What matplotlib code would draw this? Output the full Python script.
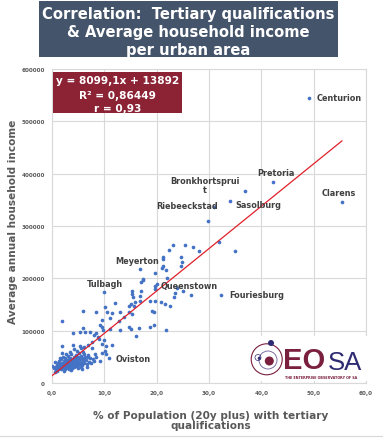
import matplotlib
matplotlib.use("Agg")
import matplotlib.pyplot as plt
from matplotlib.patches import Rectangle, Circle
from matplotlib.lines import Line2D
import numpy as np

# ---------------- data ----------------
# dense cluster of small towns
cluster_x = [0.3,0.5,0.8,0.9,1.0,1.1,1.2,1.3,1.4,1.5,1.6,1.7,1.8,1.9,2.0,2.0,2.1,2.2,2.3,2.3,
             2.4,2.5,2.5,2.6,2.7,2.7,2.8,2.9,3.0,3.0,3.1,3.2,3.2,3.3,3.4,3.5,3.5,3.6,3.7,3.7,
             3.8,3.9,4.0,4.0,4.1,4.2,4.2,4.3,4.4,4.5,4.5,4.6,4.7,4.8,4.9,5.0,5.0,5.1,5.2,5.3,
             5.4,5.5,5.6,5.7,5.8,5.9,6.0,6.1,6.2,6.4,6.5,6.7,6.8,7.0,7.2,7.5,7.8,8.0,2.6,1.5,
             3.4,4.8,5.5,6.0,1.0,2.2,3.6,5.8,6.6,0.6,0.0,0.6,1.2,3.4]
cluster_y = [28000,31000,24000,35000,29000,38000,26000,33000,42000,30000,36000,27000,45000,32000,39000,28000,50000,35000,42000,30000,
             26000,47000,37000,33000,40000,29000,44000,36000,31000,52000,41000,27000,46000,35000,39000,30000,48000,43000,33000,55000,
             37000,28000,45000,40000,34000,50000,30000,42000,37000,47000,32000,53000,39000,44000,29000,35000,49000,41000,57000,37000,
             45000,31000,51000,40000,34000,47000,43000,55000,38000,49000,44000,36000,53000,41000,47000,38000,45000,42000,56000,48000,
             60000,62000,66000,60000,22000,23000,25000,27000,30000,40000,33000,20500,30000,26800]

# remaining urban areas
other_x = [49.1,42.2,36.9,34.0,31.0,29.9,31.9,35.0,55.4,22.3,23.1,25.5,26.9,28.0,21.2,24.6,21.2,24.9,21.3,21.0,
           21.7,24.7,19.7,21.9,17.4,20.0,19.6,19.6,23.8,25.1,23.5,26.5,23.3,32.2,16.8,17.3,17.1,15.2,15.3,15.5,
           15.9,15.0,15.7,16.8,16.8,17.0,9.9,12.0,5.9,8.4,10.5,11.5,13.0,14.8,18.7,19.6,20.8,21.5,22.5,19.1,
           19.5,14.8,15.3,13.8,11.1,9.6,9.2,9.5,9.8,11.0,13.0,14.7,15.0,16.6,18.7,19.4,21.8,16.1,4.0,2.0,
           5.9,5.4,6.3,7.3,8.1,8.5,8.8,9.0,9.6,10.3,10.1,10.4,9.2,10.9,11.5,10.0,9.5,8.2,7.7,6.9,
           5.4,4.1,2.0,1.9,4.2,6.2,12.8,10.1,7.6,6.8,8.5]
other_y = [545000,384000,366000,348500,337000,310000,269000,253000,346000,255000,264000,264000,260500,253000,241500,241500,236000,232000,224000,219000,
           216500,224000,211000,201000,197500,188700,184900,179700,181000,176000,172000,168300,164000,168800,217000,199000,192500,176500,170000,164000,
           154000,151000,146500,167000,157000,176000,174500,153000,138000,135000,136000,134000,135000,136000,157000,157000,154000,151000,146600,138000,
           135000,146600,132000,125600,123700,120000,111000,106500,102000,103000,102000,107000,103000,105700,107600,111000,101000,89300,95600,119000,
           104600,97000,97000,98000,91800,95000,88500,84000,74600,71300,61800,55400,42600,47200,72700,82800,56800,55400,66300,73200,
           71300,72700,71300,57400,65000,68000,119000,146000,77800,49000,49100]

x_all = cluster_x + other_x
y_all = cluster_y + other_y

slope, intercept = 8099.1, 13892
eq_lines = ["y = 8099,1x + 13892", "R² = 0,86449", "r = 0,93"]

point_labels = ["Centurion", "Pretoria", "Bronkhortsprui\nt", "Riebeeckstad", "Sasolburg",
                "Clarens", "Meyerton", "Tulbagh", "Queenstown", "Fouriesburg", "Oviston"]
label_x = [50.5, 42.7, 29.3, 25.9, 35.1, 54.8, 16.2, 10.2, 20.8, 33.8, 12.2]
label_y = [545000, 402800, 378000, 339000, 341000, 363900, 233300, 189300, 185500, 168300, 45900]
label_ha = ["left", "center", "center", "center", "left", "center", "center", "center", "left", "left", "left"]

x_ticks = [0, 10, 20, 30, 40, 50, 60]
y_ticks = [0, 100000, 200000, 300000, 400000, 500000, 600000]

# ---------------- figure ----------------
W, H = 383, 439
fig = plt.figure(figsize=(W / 100, H / 100), dpi=100)
fig.patch.set_facecolor("white")

def fx(px):
    return px / W

def fy(py):
    return (H - py) / H

ax = fig.add_axes([fx(52), fy(384), fx(366) - fx(52), fy(70) - fy(384)])
ax.set_xlim(0, 60)
ax.set_ylim(0, 600000)
ax.set_xticks(x_ticks)
ax.set_yticks(y_ticks)
ax.set_xticklabels([f"{v:.1f}".replace(".", ",") for v in x_ticks])
ax.set_yticklabels([str(v) for v in y_ticks])
ax.tick_params(length=0, labelsize=4.1, labelcolor="#595959", pad=5)
for lab in ax.get_xticklabels() + ax.get_yticklabels():
    lab.set_fontweight("bold")
ax.grid(True, color="#d9d9d9", lw=0.8)
ax.set_axisbelow(True)
for s in ax.spines.values():
    s.set_color("#d9d9d9")
    s.set_linewidth(0.8)

ax.scatter(x_all, y_all, s=7, color="#4472c4", linewidths=0, zorder=3)
xl = np.array([min(x_all), max(x_all)])
ax.plot(xl, slope * xl + intercept, color="#e0202b", lw=0.9, zorder=4)

for t, lx, ly, ha in zip(point_labels, label_x, label_y, label_ha):
    ax.text(lx, ly, t, ha=ha, va="center", fontsize=5.9, fontweight="bold",
            color="#404040", zorder=5, linespacing=1.05)

# title box
fig.patches.append(Rectangle((fx(39), fy(58)), fx(338) - fx(39), fy(2) - fy(58),
                             transform=fig.transFigure, facecolor="#44546a",
                             edgecolor="none", zorder=1))
for line, py in zip(["Correlation:  Tertiary qualifications",
                     "& Average household income", "per urban area"], [14, 32.5, 51]):
    fig.text(fx(188.5), fy(py), line, ha="center", va="center", fontsize=10.6,
             fontweight="bold", color="white", zorder=2)

# equation box
fig.patches.append(Rectangle((fx(53), fy(114)), fx(182) - fx(53), fy(73) - fy(114),
                             transform=fig.transFigure, facecolor="#8b2335",
                             edgecolor="none", zorder=1))
for line, py in zip(eq_lines, [81.5, 96.5, 109]):
    fig.text(fx(117.5), fy(py), line, ha="center", va="center", fontsize=7.6,
             fontweight="bold", color="white", zorder=2)

# axis titles
fig.text(fx(13), fy(222), "Average annual household income", rotation=90,
         ha="center", va="center", fontsize=7.6, fontweight="bold", color="#595959")
fig.text(fx(210.5), fy(421.5), "% of Population (20y plus) with tertiary\nqualifications",
         ha="center", va="center", fontsize=7.6, fontweight="bold", color="#595959",
         linespacing=1.0)

# bottom frame line
fig.add_artist(Line2D([0, 1], [fy(437), fy(437)], transform=fig.transFigure,
                      color="#d9d9d9", lw=0.8))

# logo
lg = fig.add_axes([fx(250), fy(382), fx(368) - fx(250), fy(337) - fy(382)], zorder=6)
lg.set_xlim(0, 118)
lg.set_ylim(0, 45)
lg.set_facecolor("white")
for s in lg.spines.values():
    s.set_visible(False)
lg.set_xticks([])
lg.set_yticks([])
red = "#7a1f3d"
navy = "#2e2b72"
lg.add_patch(Circle((16.7, 21.7), 15.5, fill=False, ec=red, lw=0.8))
lg.add_patch(Circle((18.0, 21.0), 9.0, fill=False, ec="#6a5a9a", lw=0.6))
lg.add_patch(Circle((19.3, 20.0), 4.5, fc=red, ec="none"))
lg.add_patch(Circle((21.0, 38.0), 3.0, fc=navy, ec="none"))
lg.add_patch(Circle((8.0, 23.5), 3.0, fill=False, ec=navy, lw=0.5))
lg.add_patch(Circle((9.3, 22.7), 1.6, fc=navy, ec="none"))
lg.text(33.3, 6.5, "EO", fontsize=21, fontweight="bold", color=red,
        family="Liberation Sans", va="bottom", ha="left")
lg.text(78.3, 6.5, "SA", fontsize=18.5, color=navy,
        family="Liberation Sans", va="bottom", ha="left")
lg.text(35, 6.0, "THE ENTERPRISE OBSERVATORY OF SA", fontsize=2.4, color=red,
        va="top", ha="left", fontweight="bold")

fig.savefig("out.png", dpi=100)
